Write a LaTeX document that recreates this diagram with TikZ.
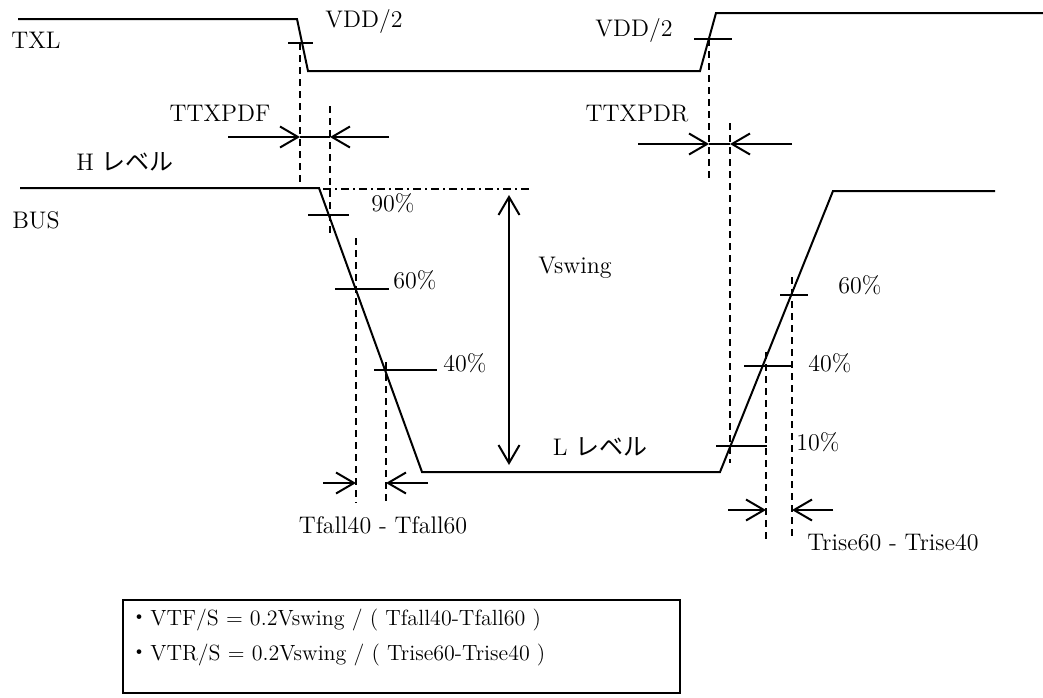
\documentclass[tikz,border=0pt]{standalone}
\usepackage{fontspec}
\newfontfamily\jp{Noto Sans CJK JP}
\usetikzlibrary{arrows.meta}
\begin{document}
\begin{tikzpicture}[x=0.5pt,y=-0.5pt,
  wave/.style={line width=1pt, line join=miter},
  tickmark/.style={line width=1pt},
  guide/.style={line width=0.8pt, dash pattern=on 3.5pt off 2.5pt},
  dashdotline/.style={line width=0.8pt, dash pattern=on 4pt off 2pt on 1pt off 2pt},
  dimarrow/.style={line width=1pt, -{Straight Barb[length=9pt,width=10.5pt,line width=1pt]}},
  dimlink/.style={line width=0.6pt},
  lbl/.style={inner sep=0pt, font=\fontsize{12}{14}\selectfont},
  eqlbl/.style={inner sep=0pt, font=\fontsize{11}{13}\selectfont},
]
\useasboundingbox (0,0) rectangle (1043,697);

% ---------- TXL waveform ----------
\coordinate (t0) at (18,19);
\coordinate (t1) at (297,19);
\coordinate (t2) at (308,71);
\coordinate (t3) at (700,71);
\coordinate (t4) at (716,13);
\coordinate (t5) at (1043,13);
\draw[wave] (t0)--(t1)--(t2)--(t3)--(t4)--(t5);

% VDD/2 ticks
\coordinate (vfa) at (288,43); \coordinate (vfb) at (313,43);
\coordinate (vra) at (694,39); \coordinate (vrb) at (732,39);
\draw[tickmark] (vfa)--(vfb);
\draw[tickmark] (vra)--(vrb);

% ---------- BUS waveform ----------
\coordinate (b0) at (20,188);
\coordinate (b1) at (319,188);
\coordinate (b2) at (422,472);
\coordinate (b3) at (720,472);
\coordinate (b4) at (833,191);
\coordinate (b5) at (995,191);
\draw[wave] (b0)--(b1)--(b2)--(b3)--(b4)--(b5);

% fall ticks
\coordinate (f90a) at (308,215); \coordinate (f90b) at (349,215);
\coordinate (f60a) at (335,289); \coordinate (f60b) at (389,289);
\coordinate (f40a) at (374,370); \coordinate (f40b) at (437,370);
\draw[tickmark] (f90a)--(f90b);
\draw[tickmark] (f60a)--(f60b);
\draw[tickmark] (f40a)--(f40b);
% rise ticks
\coordinate (r10a) at (716,446); \coordinate (r10b) at (767,446);
\coordinate (r40a) at (744,366); \coordinate (r40b) at (792,366);
\coordinate (r60a) at (780,295); \coordinate (r60b) at (808,295);
\draw[tickmark] (r10a)--(r10b);
\draw[tickmark] (r40a)--(r40b);
\draw[tickmark] (r60a)--(r60b);

% ---------- dashed guides ----------
\coordinate (g1a) at (300,43);  \coordinate (g1b) at (300,183);
\coordinate (g2a) at (330,106); \coordinate (g2b) at (330,233);
\coordinate (g3a) at (709,39);  \coordinate (g3b) at (709,182);
\coordinate (g4a) at (730,123); \coordinate (g4b) at (730,463);
\coordinate (g5a) at (356,238); \coordinate (g5b) at (356,503);
\coordinate (g6a) at (386,362); \coordinate (g6b) at (386,503);
\coordinate (g7a) at (766,352); \coordinate (g7b) at (766,540);
\coordinate (g8a) at (792,277); \coordinate (g8b) at (792,537);
\foreach \g in {1,...,8} \draw[guide] (g\g a)--(g\g b);

% 90% dash-dot level line
\coordinate (dd0) at (323,189); \coordinate (dd1) at (530,189);
\draw[dashdotline] (dd0)--(dd1);

% ---------- dimension arrows ----------
% TTXPDF
\coordinate (pf0) at (228,137); \coordinate (pf1) at (300,137);
\coordinate (pf2) at (330,137); \coordinate (pf3) at (389,137);
\draw[dimarrow] (pf0)--(pf1);
\draw[dimarrow] (pf3)--(pf2);
\draw[dimlink] (pf1)--(pf2);
% TTXPDR
\coordinate (pr0) at (638,144); \coordinate (pr1) at (709,144);
\coordinate (pr2) at (730,144); \coordinate (pr3) at (792,144);
\draw[dimarrow] (pr0)--(pr1);
\draw[dimarrow] (pr3)--(pr2);
\draw[dimlink] (pr1)--(pr2);
% Tfall
\coordinate (tf0) at (323,483); \coordinate (tf1) at (356,483);
\coordinate (tf2) at (386,483); \coordinate (tf3) at (428,483);
\draw[dimarrow] (tf0)--(tf1);
\draw[dimarrow] (tf3)--(tf2);
% Trise
\coordinate (tr0) at (728,510); \coordinate (tr1) at (766,510);
\coordinate (tr2) at (792,510); \coordinate (tr3) at (833,510);
\draw[dimarrow] (tr0)--(tr1);
\draw[dimarrow] (tr3)--(tr2);
% Vswing
\coordinate (vs0) at (509,195); \coordinate (vs1) at (509,465);
\draw[line width=1pt, {Straight Barb[length=9pt,width=10.5pt,line width=1pt]}-{Straight Barb[length=9pt,width=10.5pt,line width=1pt]}] (vs0)--(vs1);

% ---------- labels ----------
\node[lbl] (txl)   at (36,40)   {TXL};
\node[lbl] (vddl)  at (364,21)  {VDD/2};
\node[lbl] (vddr)  at (634,30)  {VDD/2};
\node[lbl] (ttxpdf) at (220,113) {TTXPDF};
\node[lbl] (hlev)  at (125,162) {H {\jp レベル}};
\node[lbl] (bus)   at (36,220)  {BUS};
\node[lbl] (p90)   at (393,203) {90\%};
\node[lbl] (p60f)  at (415,280) {60\%};
\node[lbl] (p40f)  at (465,363) {40\%};
\node[lbl] (vsw)   at (575,268) {Vswing};
\node[lbl] (llev)  at (600,447) {L {\jp レベル}};
\node[lbl] (tfall) at (383,525) {Tfall40 - Tfall60};
\node[lbl] (ttxpdr) at (637,114) {TTXPDR};
\node[lbl] (p60r)  at (860,285) {60\%};
\node[lbl] (p40r)  at (830,363) {40\%};
\node[lbl] (p10r)  at (818,442) {10\%};
\node[lbl] (trise) at (893,543) {Trise60 - Trise40};

% ---------- formula box ----------
\coordinate (bx0) at (123,600); \coordinate (bx1) at (680,693);
\draw[line width=1pt] (bx0) rectangle (bx1);
\node[eqlbl, anchor=west] (eq1) at (128,620) {{\jp ・}VTF/S = 0.2Vswing / ( Tfall40-Tfall60 )};
\node[eqlbl, anchor=west] (eq2) at (128,655) {{\jp ・}VTR/S = 0.2Vswing / ( Trise60-Trise40 )};
\end{tikzpicture}
\end{document}
